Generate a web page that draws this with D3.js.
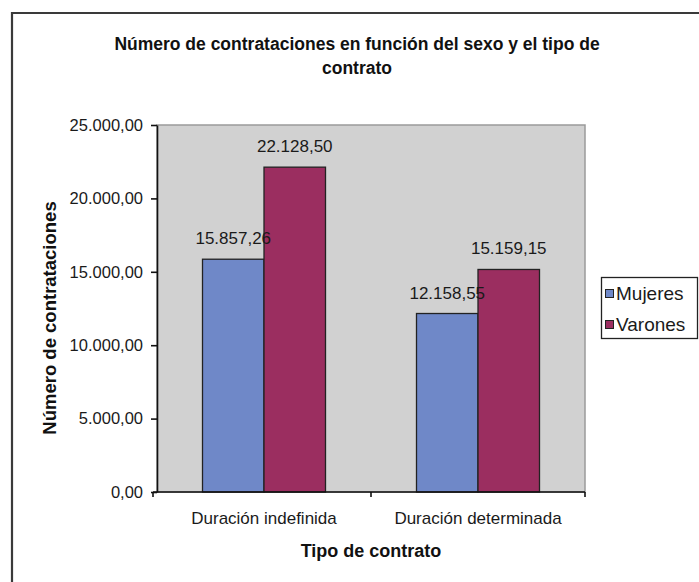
<!DOCTYPE html>
<html><head><meta charset="utf-8">
<script src="https://cdn.jsdelivr.net/npm/d3@7"></script>
<style>body{margin:0;background:#fff}svg{display:block;font-family:"Liberation Sans",Arial,sans-serif}</style>
</head><body><svg id="c" width="699" height="582"></svg>
<script>
const categories = ["Duración indefinida", "Duración determinada"];
const seriesNames = ["Mujeres", "Varones"];
const mujeres = [15857.26, 12158.55];
const varones = [22128.50, 15159.15];
const yTicks = [0, 5000, 10000, 15000, 20000, 25000];
const colors = ["#6f88c8", "#9b2e60"];
const titleLines = ["Número de contrataciones en función del sexo y el tipo de", "contrato"];

const svg = d3.select("#c");
const fmt = v => {
  const s = v.toFixed(2).split(".");
  return s[0].replace(/\B(?=(\d{3})+(?!\d))/g, ".") + "," + s[1];
};
// outer frame
svg.append("path").attr("d","M12,582V13H699").attr("fill","none").attr("stroke","#3a3a3a").attr("stroke-width",2.2);

const L=157, R=585, T=125, B=492;
const y = d3.scaleLinear().domain([0,25000]).range([B,T]);
const x0 = d3.scaleBand().domain(categories).range([L,R]);
const x1 = d3.scaleBand().domain(seriesNames).range([45.5, x0.bandwidth()-45.5]);

svg.append("rect").attr("x",L).attr("y",T).attr("width",R-L).attr("height",B-T)
  .attr("fill","#d1d1d1").attr("stroke","#9a9a9a").attr("stroke-width",1.5);

const data = categories.map((c,i)=>({cat:c, vals:[mujeres[i], varones[i]]}));
const g = svg.append("g");
data.forEach(d=>{
  d.vals.forEach((v,j)=>{
    const xx = x0(d.cat)+x1(seriesNames[j]);
    g.append("rect").attr("x",xx).attr("y",y(v)).attr("width",x1.bandwidth()).attr("height",B-y(v))
      .attr("fill",colors[j]).attr("stroke","#222").attr("stroke-width",1.3);
  });
});
data.forEach(d=>{
  d.vals.forEach((v,j)=>{
    const xx = x0(d.cat)+x1(seriesNames[j]);
    g.append("text").attr("x",xx+x1.bandwidth()/2).attr("y",y(v)-15).attr("text-anchor","middle")
      .attr("font-size",17).attr("fill","#1a1a1a").text(fmt(v));
  });
});

// y axis
const ya = svg.append("g").attr("transform",`translate(${L},0)`)
  .call(d3.axisLeft(y).tickValues(yTicks).tickFormat(fmt).tickSize(6).tickPadding(8).tickSizeOuter(0));
ya.select(".domain").attr("stroke","#111").attr("stroke-width",1.6);
ya.selectAll(".tick line").attr("stroke","#111").attr("stroke-width",1.6);
ya.selectAll("text").attr("font-size",16.5).attr("fill","#1a1a1a").attr("font-family","Liberation Sans, Arial");

// x axis
const xa = svg.append("g").attr("transform",`translate(0,${B})`)
  .call(d3.axisBottom(x0).tickSize(0).tickSizeOuter(0));
xa.select(".domain").attr("d",`M${L-4},0H${R}`).attr("stroke","#111").attr("stroke-width",1.6);
xa.selectAll("text").attr("font-size",17).attr("fill","#1a1a1a").attr("font-family","Liberation Sans, Arial").attr("y",32).attr("dy",0);
[L-4, x0(categories[1]), R].forEach(t=>svg.append("line").attr("x1",t).attr("x2",t).attr("y1",B).attr("y2",B+5).attr("stroke","#111").attr("stroke-width",1.6));

// titles
svg.append("text").attr("x",357).attr("y",50).attr("text-anchor","middle").attr("font-size",17.5).attr("font-weight","bold").attr("fill","#111").text(titleLines[0]);
svg.append("text").attr("x",357).attr("y",74).attr("text-anchor","middle").attr("font-size",17.5).attr("font-weight","bold").attr("fill","#111").text(titleLines[1]);
svg.append("text").attr("x",371).attr("y",557).attr("text-anchor","middle").attr("font-size",18).attr("font-weight","bold").attr("fill","#111").text("Tipo de contrato");
svg.append("text").attr("transform","translate(56,318) rotate(-90)").attr("text-anchor","middle").attr("font-size",18.5).attr("font-weight","bold").attr("fill","#111").text("Número de contrataciones");

// legend
const lg = svg.append("g");
lg.append("rect").attr("x",601.5).attr("y",277.5).attr("width",96).attr("height",61).attr("fill","#fff").attr("stroke","#222").attr("stroke-width",1.3);
seriesNames.forEach((s,i)=>{
  const yy = 293.5 + i*31;
  lg.append("rect").attr("x",605.5).attr("y",yy-4).attr("width",8).attr("height",8).attr("fill",colors[i]).attr("stroke","#222").attr("stroke-width",1);
  lg.append("text").attr("x",616).attr("y",yy+6.5).attr("font-size",19).attr("fill","#1a1a1a").text(s);
});
</script></body></html>
